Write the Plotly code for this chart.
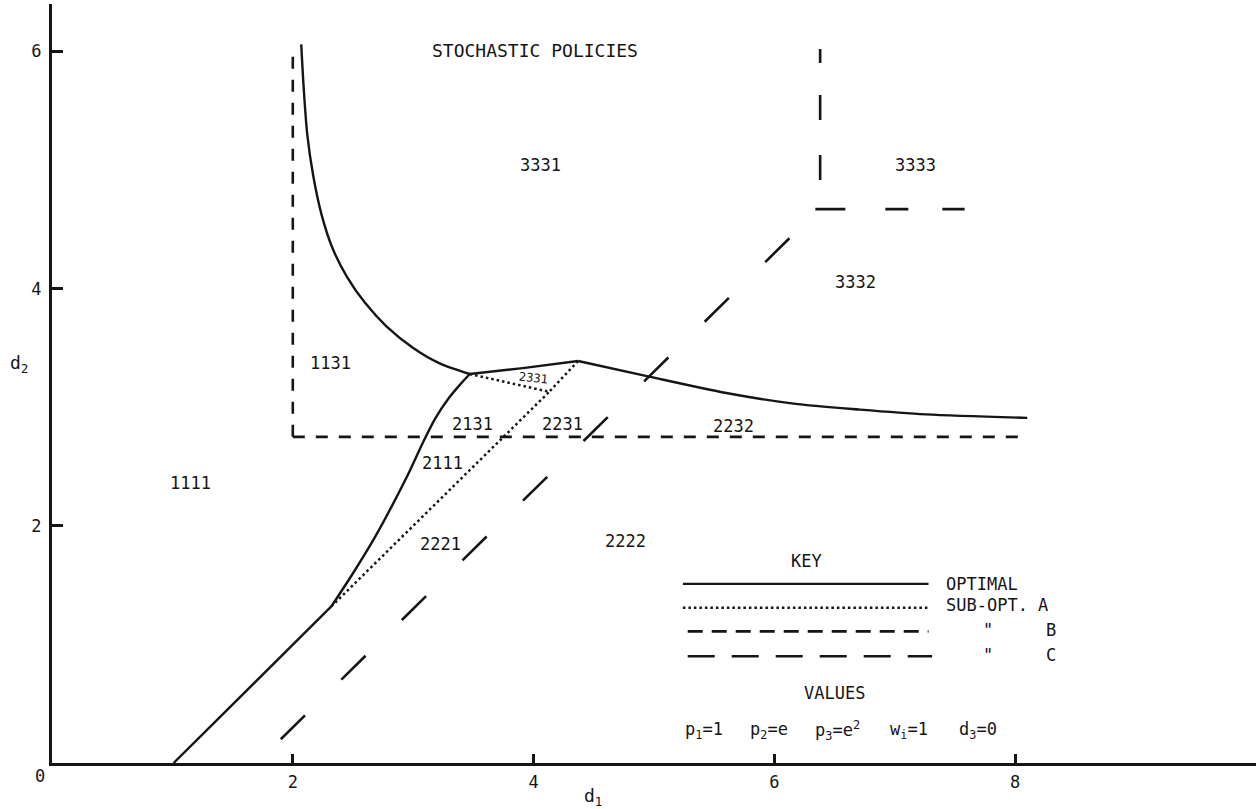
import plotly.graph_objects as go

# ---------------- data ----------------
# OPTIMAL boundaries (solid)
opt_diag_x = [1.01, 2.32]
opt_diag_y = [0.00, 1.32]
opt_branch_x = [2.32, 2.50, 2.68, 2.84, 2.97, 3.08, 3.18, 3.29, 3.38, 3.47]
opt_branch_y = [1.32, 1.60, 1.90, 2.20, 2.46, 2.70, 2.90, 3.07, 3.18, 3.28]
opt_hyper_x = [2.07, 2.09, 2.12, 2.17, 2.24, 2.33, 2.45, 2.60, 2.78, 3.00, 3.22, 3.47]
opt_hyper_y = [6.06, 5.70, 5.30, 4.95, 4.62, 4.34, 4.10, 3.88, 3.68, 3.50, 3.37, 3.28]
opt_ridge_x = [3.47, 3.91, 4.37]
opt_ridge_y = [3.28, 3.33, 3.39]
opt_right_x = [4.37, 4.95, 5.60, 6.16, 6.71, 7.26, 8.10]
opt_right_y = [3.39, 3.26, 3.12, 3.03, 2.98, 2.94, 2.91]

# SUB-OPT. A (dotted)
subA_diag_x = [2.32, 4.13]
subA_diag_y = [1.32, 3.13]
subA_tri_x = [3.47, 4.13, 4.37]
subA_tri_y = [3.28, 3.13, 3.39]

# SUB-OPT. B (short dashes)
subB_vert_x = [2.00, 2.00]
subB_vert_y = [2.75, 6.03]
subB_horz_x = [2.00, 8.08]
subB_horz_y = [2.75, 2.75]

# SUB-OPT. C (long dashes)
subC_diag_x = [1.90, 6.36]
subC_diag_y = [0.20, 4.66]
subC_horz_x = [6.34, 7.58]
subC_horz_y = [4.67, 4.67]
subC_vert_x = [6.38, 6.38]
subC_vert_y = [6.02, 4.67]

# region labels (policy codes)
region_names = ["3331", "3333", "3332", "1131", "2131", "2231", "2232",
                "2111", "1111", "2221", "2222"]

x_ticks = [2, 4, 6, 8]
y_ticks = [2, 4, 6]

key_names = ["OPTIMAL", "SUB-OPT. A", "\"", "\""]
value_texts = ["p<sub>1</sub>=1", "p<sub>2</sub>=e", "p<sub>3</sub>=e<sup>2</sup>",
               "w<sub>i</sub>=1", "d<sub>3</sub>=0"]

# ---------------- layout / style (not data) ----------------
INK = "#151515"
FONT = "DejaVu Sans Mono, Liberation Mono, monospace"
region_pos = [(4.06, 5.04), (7.17, 5.04), (6.67, 4.06), (2.31, 3.37),
              (3.49, 2.86), (4.24, 2.86), (5.66, 2.84), (3.24, 2.53),
              (1.15, 2.36), (3.23, 1.85), (4.76, 1.87)]

fig = go.Figure()

def line(x, y, dash="solid", width=2.4, shape="linear", smoothing=1.0):
    ln = dict(color=INK, width=width, dash=dash, shape=shape)
    if shape == "spline":
        ln["smoothing"] = smoothing
    fig.add_trace(go.Scatter(x=x, y=y, mode="lines", line=ln,
                             hoverinfo="skip", showlegend=False))

# optimal
line(opt_diag_x, opt_diag_y)
line(opt_branch_x, opt_branch_y, shape="spline", smoothing=0.8)
line(opt_hyper_x, opt_hyper_y, shape="spline", smoothing=0.8)
line(opt_ridge_x, opt_ridge_y, shape="spline", smoothing=0.5)
line(opt_right_x, opt_right_y, shape="spline", smoothing=0.8)
# sub-opt A
line(subA_diag_x, subA_diag_y, dash="2.5px,3px", width=2.5)
line(subA_tri_x, subA_tri_y, dash="2.5px,3px", width=2.5)
# sub-opt B (two pieces starting at the corner)
line(subB_vert_x, subB_vert_y, dash="12px,11px", width=2.6)
line(subB_horz_x, subB_horz_y, dash="12px,11px", width=2.6)
# sub-opt C
line(subC_diag_x, subC_diag_y, dash="34px,51px", width=2.6)
line(subC_horz_x, subC_horz_y, dash="30px,40px,23px,34px,23px,200px", width=2.6)
line(subC_vert_x, subC_vert_y, dash="14px,32px,25px,35px,25px,200px", width=2.6)

ann = []
def txt(text, x, y, size=17, xanchor="center", yanchor="middle", angle=0, ref="data"):
    xr, yr = ("x", "y") if ref == "data" else ("paper", "paper")
    ann.append(dict(text=text, x=x, y=y, xref=xr, yref=yr, showarrow=False,
                    xanchor=xanchor, yanchor=yanchor, textangle=angle,
                    font=dict(family=FONT, size=size, color=INK)))

txt("STOCHASTIC POLICIES", 4.01, 6.01, size=18)
for name, (px, py) in zip(region_names, region_pos):
    txt(name, px, py)
txt("2331", 4.00, 3.25, size=12, angle=6)

# key
txt("KEY", 6.27, 1.70)
key_rows_y = [1.51, 1.33, 1.12, 0.91]
txt(key_names[0], 7.41, key_rows_y[0], xanchor="left")
txt(key_names[1], 7.41, key_rows_y[1], xanchor="left")
txt(key_names[2], 7.72, key_rows_y[2], xanchor="left")
txt("B", 8.24, key_rows_y[2], xanchor="left")
txt(key_names[3], 7.72, key_rows_y[3], xanchor="left")
txt("C", 8.24, key_rows_y[3], xanchor="left")
txt("VALUES", 6.50, 0.59)
for t, vx in zip(value_texts, [5.24, 5.78, 6.32, 6.94, 7.52]):
    txt(t, vx, 0.27, xanchor="left")

# axis labels and origin (paper coordinates, outside the plotting area)
txt("0", -0.010, -0.017, ref="paper")
txt("d<sub>1</sub>", 0.449, -0.045, size=18, ref="paper")
txt("d<sub>2</sub>", -0.027, 0.526, size=18, ref="paper")

shapes = []
def key_line(x0, x1, y, dash, width):
    shapes.append(dict(type="line", xref="x", yref="y", x0=x0, x1=x1, y0=y, y1=y,
                       line=dict(color=INK, width=width, dash=dash)))
key_line(5.24, 7.28, 1.51, "solid", 2.4)
key_line(5.24, 7.28, 1.31, "2.5px,3px", 2.5)
key_line(5.28, 7.28, 1.11, "15px,9px", 2.6)
key_line(5.28, 7.31, 0.90, "27px,17px", 2.6)

fig.update_layout(
    width=1258, height=809,
    margin=dict(l=52, r=2, t=4, b=46),
    paper_bgcolor="white", plot_bgcolor="white",
    annotations=ann, shapes=shapes,
    font=dict(family=FONT, size=17, color=INK),
    xaxis=dict(range=[0, 10], showgrid=False, zeroline=False, showline=True,
               linecolor=INK, linewidth=3, ticks="inside", ticklen=9, tickwidth=2.5,
               tickcolor=INK, tickvals=x_ticks, ticklabelstandoff=2),
    yaxis=dict(range=[0, 6.4], showgrid=False, zeroline=False, showline=True,
               linecolor=INK, linewidth=3, ticks="inside", ticklen=11, tickwidth=2.5,
               tickcolor=INK, tickvals=y_ticks, ticklabelstandoff=4),
)

fig.write_html("out.html", config={"displayModeBar": False},
               post_script="document.body.style.margin='0';")
